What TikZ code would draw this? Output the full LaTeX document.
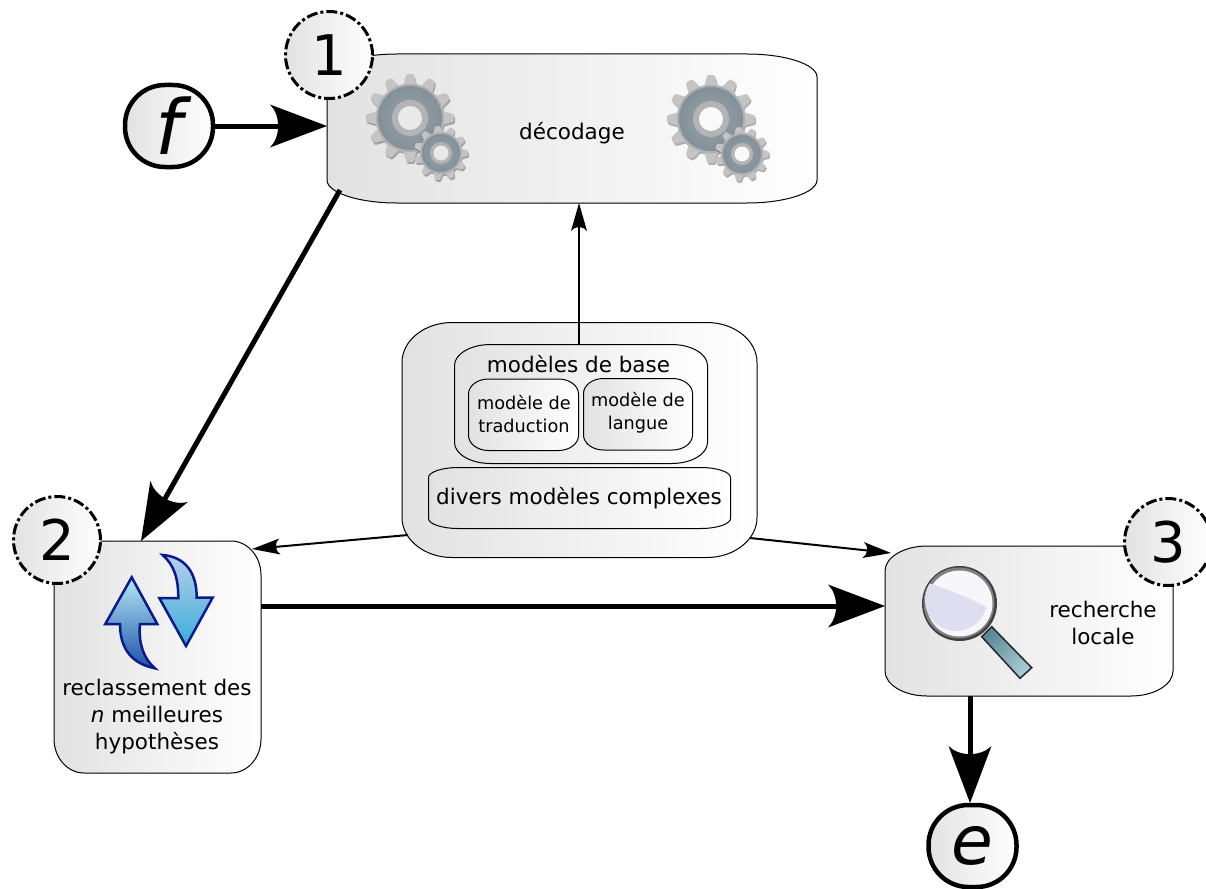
\documentclass[tikz,border=0pt]{standalone}
\usepackage{fontspec}
\setmainfont{DejaVu Sans}
\usetikzlibrary{arrows.meta}
\pgfdeclarearrow{
  name=InkTip,
  defaults={length=57pt,width=43pt},
  setup code={
    \pgfarrowssettipend{0pt}
    \pgfarrowssetlineend{-.7\pgfarrowlength}
    \pgfarrowssetvisualbackend{-\pgfarrowlength}
    \pgfarrowssetbackend{-\pgfarrowlength}
    \pgfarrowssavethe\pgfarrowlength
    \pgfarrowssavethe\pgfarrowwidth
  },
  drawing code={
    \pgfsetdash{}{0pt}
    \pgfsetlinewidth{0pt}
    \pgfpathmoveto{\pgfqpoint{0pt}{0pt}}
    \pgfpathlineto{\pgfqpoint{-\pgfarrowlength}{.5\pgfarrowwidth}}
    \pgfpathcurveto{\pgfqpoint{-.81\pgfarrowlength}{.25\pgfarrowwidth}}{\pgfqpoint{-.81\pgfarrowlength}{-.25\pgfarrowwidth}}{\pgfqpoint{-\pgfarrowlength}{-.5\pgfarrowwidth}}
    \pgfpathclose
    \pgfusepathqfill
  }
}
\pgfdeclareradialshading{ringsh}{\pgfpointorigin}{%
  rgb(0bp)=(.60,.64,.66);
  rgb(24bp)=(.52,.57,.60);
  rgb(38bp)=(.36,.42,.46);
  rgb(50bp)=(.50,.55,.58);
  rgb(100bp)=(.50,.55,.58)}
\definecolor{boxgray}{HTML}{E2E2E2}
\definecolor{gearbody}{HTML}{C4C4C4}
\definecolor{gearlight}{HTML}{B0B0B0}
\definecolor{geardeep}{HTML}{B4B4B4}
\definecolor{iconline}{HTML}{0A1A8C}
\definecolor{holeleft}{HTML}{E9E9E9}
\definecolor{holeright}{HTML}{F9F9F9}
\definecolor{downtop}{HTML}{B8CCEA}
\definecolor{downbot}{HTML}{38B0D8}
\definecolor{uptop}{HTML}{B4EAF4}
\definecolor{upbot}{HTML}{1C50A8}
\definecolor{handlea}{HTML}{5A8A98}
\definecolor{handleb}{HTML}{A8CCD2}
\definecolor{lensmid}{HTML}{DEDEF0}
\definecolor{lensedge}{HTML}{F6F6FB}
\tikzset{
  boxline/.style={draw=black,line width=1pt,left color=boxgray,right color=white},
  anchorbox/.style={rectangle,inner sep=0pt,outer sep=0pt},
  textlabel/.style={align=center,inner sep=0pt,text=black,font=\fontsize{21.5}{27}\selectfont},
  smalllabel/.style={align=center,inner sep=0pt,text=black,font=\fontsize{17.7}{23}\selectfont},
  numcircle/.style={circle,minimum size=87pt,inner sep=0pt,draw=black,line width=3pt,
    dash pattern=on 11pt off 3pt on 3pt off 3pt,left color=boxgray,right color=white,
    font=\fontsize{56}{56}\selectfont},
  termbox/.style={rectangle,rounded corners=40pt,minimum width=88pt,minimum height=82pt,inner sep=0pt,
    draw=black,line width=4.5pt,left color=boxgray,right color=white},
  bigarrow/.style={line width=5pt,-{InkTip[length=57pt,width=43pt]}},
  thinarrow/.style={line width=2pt,-{InkTip[length=28pt,width=16pt]}},
}
% name, x0, y0, x1, y1, rx, ry
\newcommand{\ebox}[7]{%
  \pgfmathsetmacro{\kx}{.45*#6}\pgfmathsetmacro{\ky}{.45*#7}%
  \path[boxline] ({#2+#6},#3) -- ({#4-#6},#3)
    .. controls ({#4-\kx},#3) and (#4,{#3+\ky}) .. (#4,{#3+#7})
    -- (#4,{#5-#7})
    .. controls (#4,{#5-\ky}) and ({#4-\kx},#5) .. ({#4-#6},#5)
    -- ({#2+#6},#5)
    .. controls ({#2+\kx},#5) and (#2,{#5-\ky}) .. (#2,{#5-#7})
    -- (#2,{#3+#7})
    .. controls (#2,{#3+\ky}) and ({#2+\kx},#3) .. ({#2+#6},#3) -- cycle;
  \pgfmathsetmacro{\bw}{#4-#2}\pgfmathsetmacro{\bh}{#5-#3}%
  \node[anchorbox,minimum width=\bw pt,minimum height=\bh pt] (#1) at ({(#2+#4)/2},{(#3+#5)/2}) {};%
}
% cx, cy, R, n, ring radius, light radius, hole radius, hole colour
\newcommand{\onegear}[8]{%
  \fill[black,opacity=.3] plot[smooth cycle,domain=0:358,samples=180]
    ({#1+1+#3*(.89+.11*max(-1,min(1,1.7*cos(#4*\x))))*cos(\x)},{#2+2+#3*(.89+.11*max(-1,min(1,1.7*cos(#4*\x))))*sin(\x)});
  \fill[gearbody] plot[smooth cycle,domain=0:358,samples=180]
    ({#1+#3*(.89+.11*max(-1,min(1,1.7*cos(#4*\x))))*cos(\x)},{#2+#3*(.89+.11*max(-1,min(1,1.7*cos(#4*\x))))*sin(\x)});
  \fill[gearlight] (#1,#2) circle[radius={#5+2}];
  \path[shading=ringsh] (#1,#2) circle[radius=#5];
  \fill[geardeep] (#1,#2) circle[radius=#6];
  \fill[#8] (#1,#2) circle[radius=#7];
}
\newcommand{\gearicon}[3]{%
  \onegear{#1}{#2}{44}{12}{32}{18}{12}{#3}
  \onegear{\the\numexpr#1+31\relax}{\the\numexpr#2+35\relax}{27}{11}{19}{11}{7.5}{#3}
}
\begin{document}
\begin{tikzpicture}[x=1pt,y=-1pt]
\useasboundingbox (0,0) rectangle (1206,888);
\clip (0,0) rectangle (1206,888);

% main boxes
\ebox{dec}{327}{54}{817}{203}{70}{23}
\ebox{rerank}{54}{541}{261}{773}{30}{34}
\ebox{local}{885}{546}{1173}{696}{42}{25}
\ebox{central}{402}{322.5}{757}{557.5}{50}{40}

% thin connectors leaving the central box
\coordinate (cl-out) at (408,535);
\coordinate (cr-out) at (750,538);
\coordinate (rerank-thin) at (252,549);
\coordinate (local-thin) at (891,553);
\coordinate (base-top) at (579,345);
\coordinate (dec-thin) at (579,203);
\draw[thinarrow] (base-top) -- (dec-thin);
\draw[thinarrow] (cl-out) -- (rerank-thin);
\draw[thinarrow] (cr-out) -- (local-thin);

% nested boxes
\ebox{base}{454.5}{344.5}{707.5}{463.5}{36}{21}
\ebox{trad}{468.5}{379}{578.5}{450.5}{20}{15}
\ebox{lang}{583.5}{378.5}{692.5}{450}{20}{15}
\ebox{comp}{428.5}{467.5}{730.5}{528.5}{30}{10}

% texts
\node[textlabel] (t-dec) at (572,133) {décodage};
\node[textlabel] (t-base) at (578.5,364) {modèles de base};
\node[smalllabel] (t-trad) at (524,414.5) {modèle de\\traduction};
\node[smalllabel] (t-lang) at (638,412.5) {modèle de\\langue};
\node[textlabel] (t-comp) at (579,498) {divers modèles complexes};
\node[textlabel] (t-rerank) at (157,717) {reclassement des\\\textit{n} meilleures\\hypothèses};
\node[textlabel] (t-local) at (1103,623) {recherche\\locale};

% terminals
\node[termbox,font=\fontsize{76}{76}\selectfont\itshape] (f) at (169,126) {f};
\node[termbox,font=\fontsize{68}{68}\selectfont\itshape] (e) at (972.5,846) {e};

% gears
\gearicon{410}{118}{holeleft}
\gearicon{711}{119}{holeright}

% reranking icon
\path[draw=iconline,line width=2.5pt,line join=miter,top color=downtop,bottom color=downbot]
  (162.7,555) .. controls (185,557) and (196.7,572) .. (196.7,597.5)
  -- (212.7,597.5) -- (186,646) -- (159.3,598) -- (178.3,598)
  .. controls (178.3,578) and (174,565) .. (162.7,555) -- cycle;
\path[draw=iconline,line width=2.5pt,line join=miter,top color=uptop,bottom color=upbot]
  (131.7,577.3) -- (157.3,624) -- (140,624)
  .. controls (138,645) and (145,660) .. (155,668.3)
  .. controls (133,664) and (120,650) .. (120,624)
  -- (105.3,624) -- cycle;

% magnifier
\path[draw=black!85,line width=1.5pt,left color=handlea,right color=handleb,shading angle=45]
  (991.7,626.7) -- (1031.7,667.7) -- (1020,678.3) -- (981.7,636.7) -- cycle;
\fill[black!75] (959.5,603.5) circle[radius=37.5];
\fill[black!50] (959,603) circle[radius=35.5];
\fill[lensedge] (959.5,603.5) circle[radius=33];
\begin{scope}
  \clip (956,600) circle[radius=31];
  \fill[lensmid] (925,582) .. controls (950,590) and (975,600) .. (995,612) -- (995,640) -- (920,640) -- cycle;
\end{scope}

% heavy connectors
\coordinate (dec-out) at (340,190);
\coordinate (rerank-in) at (141,541);
\coordinate (rerank-out) at (261,606);
\coordinate (local-in) at (885,606);
\coordinate (local-out) at (970,696);
\coordinate (e-in) at (970,803);
\draw[bigarrow] (f.east) -- (f.east -| dec.west);
\draw[bigarrow] (dec-out) -- (rerank-in);
\draw[bigarrow] (rerank-out) -- (local-in);
\draw[bigarrow] (local-out) -- (e-in);

% numbered circles
\node[numcircle] (n1) at (329,55) {1};
\node[numcircle] (n2) at (57,540) {2};
\node[numcircle] (n3) at (1168,542) {3};
\end{tikzpicture}
\end{document}
